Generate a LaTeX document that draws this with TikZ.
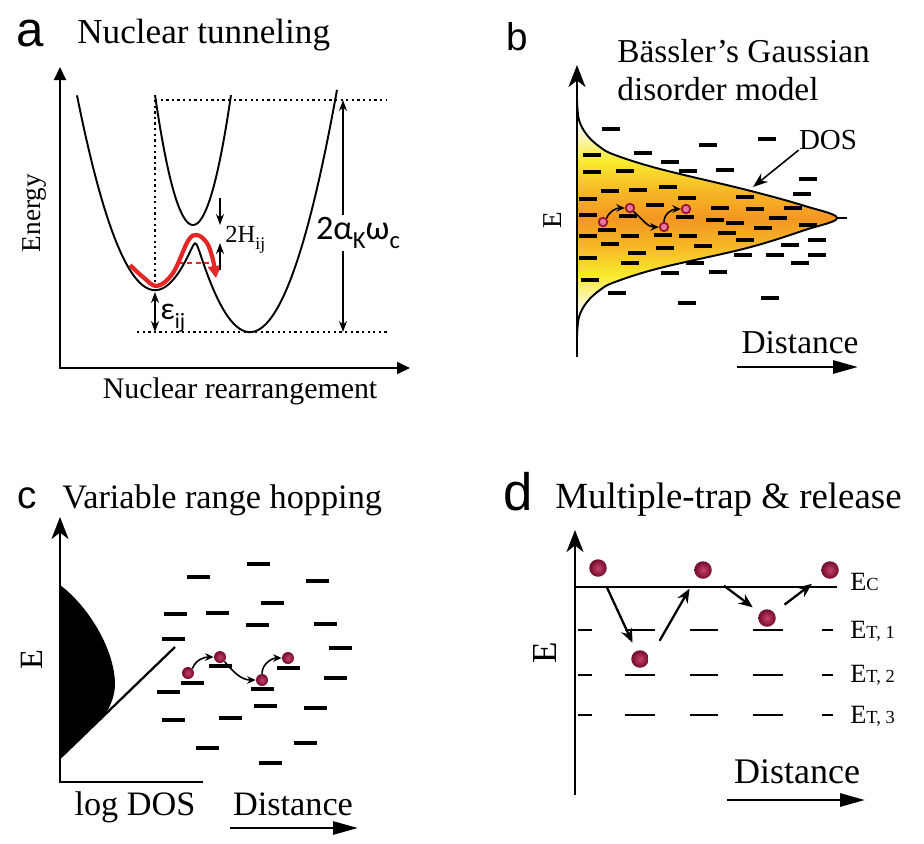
\documentclass[tikz,border=0pt]{standalone}
\usepackage{fontspec}
\setmainfont{Liberation Serif}
\newfontfamily\tagfont{Liberation Sans}
\newfontfamily\calfont{Carlito}
\usetikzlibrary{arrows.meta}
\definecolor{gdpale}{RGB}{253,251,235}
\definecolor{gdyellow}{RGB}{249,234,45}
\definecolor{gdamber}{RGB}{246,185,38}
\definecolor{gdorange}{RGB}{244,150,34}
\definecolor{tunred}{RGB}{228,38,38}
\definecolor{hopin}{RGB}{200,66,104}
\definecolor{hopout}{RGB}{112,12,44}
\definecolor{hopline}{RGB}{150,20,55}
\definecolor{hopfill}{RGB}{232,120,160}
\pgfdeclareverticalshading{gdmfill}{100bp}{color(0bp)=(gdpale); color(25bp)=(gdpale); color(31bp)=(gdpale); color(38bp)=(gdyellow); color(44bp)=(gdamber); color(50bp)=(gdorange); color(56bp)=(gdamber); color(62bp)=(gdyellow); color(69bp)=(gdpale); color(75bp)=(gdpale); color(100bp)=(gdpale)}
\newcommand\fsz[1]{\fontsize{#1}{#1}\selectfont}
\newcommand\lowidx[2]{\raisebox{-0.28em}{\fsz{#1}#2}}
\newcommand\lvlidx[1]{{\fsz{10.5}#1}}

\begin{document}
\begin{tikzpicture}[x=0.02cm,y=-0.02cm,
  declare function={
    wellL(\x)=110+3.2*((\x-155)/10)*((\x-155)/10);
    wellR(\x)=68+3.2*((\x-250)/10)*((\x-250)/10);
    halfgap(\x)=(wellL(\x)-wellR(\x))/20;
    pesLow(\x)=400-(wellL(\x)+wellR(\x))/2+10*sqrt(halfgap(\x)*halfgap(\x)+0.36);
    pesUp(\x)=225-9*((\x-193)/10)*((\x-193)/10);},
  paneltitle/.style={anchor=base west,inner sep=0pt},
  panellabel/.style={anchor=base west,inner sep=0pt},
  axlabel/.style={inner sep=0pt},
  pes/.style={line width=1.1pt},
  guide/.style={line width=1.1pt,dash pattern=on 1.3pt off 1.9pt},
  splitarr/.style={line width=0.8pt,-{Stealth[length=2.2mm,width=1.6mm]}},
  gaparr/.style={line width=0.8pt,{Stealth[length=2.2mm,width=1.6mm]}-{Stealth[length=2.2mm,width=1.6mm]}},
  tunnel/.style={tunred,line width=2.4pt,-{Triangle[length=2.4mm,width=2.6mm]}},
  thinaxis/.style={line width=1.1pt},
  eaxis/.style={line width=1.6pt,-{Stealth[length=4.4mm,width=3.4mm,inset=1.3mm]}},
  distarrow/.style={line width=1.6pt,-{Triangle[length=5mm,width=2.6mm]}},
  site/.style={line width=2.2pt},
  trapline/.style={line width=1.3pt},
  hop/.style={line width=0.9pt,-{Stealth[length=1.7mm,width=1.5mm]}},
  jump/.style={line width=1.3pt,-{Stealth[length=2.8mm,width=2.3mm]}},
  carrier/.style={circle,inner sep=0pt,minimum size=#1,inner color=hopin,outer color=hopout},
  smallcarrier/.style={circle,inner sep=0pt,minimum size=1.7mm,draw=hopline,line width=1pt,fill=hopfill}
]
\useasboundingbox (0,0) rectangle (924,843);
\fill[white] (0,0) rectangle (924,843);

% a: nuclear tunneling
\node[panellabel,font=\tagfont\fsz{28}] (tagA) at (16,46) {a};
\node[paneltitle,font=\fsz{20}] (titleA) at (77,43) {Nuclear tunneling};
\draw[thinaxis,{Triangle[length=2.6mm,width=2.4mm]}-{Triangle[length=2.6mm,width=2.4mm]}] (410,368) -- (60,368) -- (60,67);
\node[axlabel,rotate=90,font=\fsz{15.5}] (energyA) at (35,213) {Energy};
\node[axlabel,anchor=base,font=\fsz{17}] (rearrA) at (240,398) {Nuclear rearrangement};
\draw[guide] (155,100) -- (387,100);
\draw[guide] (137,332) -- (387,332);
\draw[guide] (155,100) -- (155,290);
\draw[pes] plot[domain=77:337,samples=160] (\x,{pesLow(\x)});
\draw[pes] plot[domain=155:231,samples=60] (\x,{pesUp(\x)});
\draw[tunnel] plot[smooth,tension=0.6] coordinates {(130,265) (143,277) (157,286) (173,273) (188,241) (197,235) (207,243) (213,260) (216,278)};
\draw[tunred,line width=1.5pt,dash pattern=on 3pt off 2pt] (178,263) -- (209,263);
\coordinate (upMin) at (220,225);
\coordinate (hump) at (220,243);
\draw[splitarr] (220,198) -- (upMin);
\draw[splitarr] (220,270) -- (hump);
\node[axlabel,anchor=west,font=\fsz{14}] (hA) at (225,240) {2H\lowidx{10}{ij}};
\coordinate (wellMin) at (155,292);
\coordinate (wellBase) at (155,332);
\draw[gaparr] (wellMin) -- (wellBase);
\node[axlabel,anchor=west,font=\calfont\fsz{18}] (epsA) at (160,318) {ε\lowidx{12.5}{ij}};
\coordinate (reorgTop) at (343,100);
\coordinate (reorgBot) at (343,332);
\draw[gaparr] (reorgTop) -- (reorgBot);
\node[fill=white,inner sep=1pt,font=\calfont\fsz{19.5}] (lamA) at (358,233) {2α\lowidx{14}{K}ω\lowidx{14}{c}};

% b: Gaussian disorder model
\node[panellabel,font=\tagfont\fsz{22}] (tagB) at (506,50) {b};
\node[paneltitle,font=\fsz{19}] (titleB1) at (617,62) {Bässler’s Gaussian};
\node[paneltitle,font=\fsz{19}] (titleB2) at (617,100) {disorder model};
\shade[shading=gdmfill,draw=black,line width=1.1pt] plot[smooth,tension=0.6] coordinates {(577,100) (579,120) (587,135) (600,147) (615,155) (660,169) (747,190) (805,206) (837,218) (805,230) (747,248) (660,268) (615,282) (600,290) (587,302) (579,317) (577,337)} -- cycle;
\draw[line width=1pt] (837,218) -- (847,218);
\foreach \x/\y in {611/129,643/153,592/155,670/162,688/171,708/145,592/172,625/171,610/191,638/190,668/187,687/198,588/199,655/205,588/215,607/230,628/216,663/235,685/217,588/236,630/236,688/236,610/244,665/248,703/246,588/258,637/253,630/263,695/263,670/273,590/280,617/293,687/303,767/139,725/170,808/179,802/194,745/197,720/208,755/209,793/208,778/218,735/223,715/220,763/228,808/225,727/233,745/240,790/245,817/240,743/255,775/255,817/255,800/263,718/272,770/298}
  \draw[site] ({\x-9},\y) -- ({\x+9},\y);
\draw[eaxis] (577,357) -- (577,65);
\node[axlabel,rotate=90,font=\fsz{15.5}] (eB) at (553,220) {E};
\node[axlabel,font=\fsz{16.5}] (dosB) at (828,140) {DOS};
\coordinate (dosTip) at (753,187);
\draw[line width=0.9pt,-{Stealth[length=3mm,width=2.2mm]}] (dosB.south west) -- (dosTip);
\node[smallcarrier] (bq1) at (603,222) {};
\node[smallcarrier] (bq2) at (630,208) {};
\node[smallcarrier] (bq3) at (664,227) {};
\node[smallcarrier] (bq4) at (686,209) {};
\draw[hop] (bq1.north east) to[out=70,in=180] (bq2.west);
\draw[hop] (bq2.south east) to[out=-40,in=180] (bq3.west);
\draw[hop] (bq3.north) to[out=90,in=180] (bq4.west);
\node[axlabel,anchor=base,font=\fsz{19}] (distB) at (800,353) {Distance};
\draw[distarrow] (737,367) -- (858,367);

% c: variable range hopping
\node[panellabel,font=\tagfont\fsz{22}] (tagC) at (17,508) {c};
\node[paneltitle,font=\fsz{19.5}] (titleC) at (62,508) {Variable range hopping};
\fill[black] (60,585) .. controls (88,606) and (114,648) .. (115,683) .. controls (115,697) and (110,707) .. (104,716) -- (60,758) -- cycle;
\draw[line width=1.3pt] (60,758) -- (175,647);
\draw[eaxis] (203,782) -- (60,782) -- (60,517);
\node[axlabel,rotate=90,font=\fsz{18.5}] (eC) at (32,660) {E};
\node[axlabel,anchor=base,font=\fsz{19.5}] (dosC) at (135,815) {log DOS};
\foreach \x/\y in {258/564,198/577,317/581,272/603,175/614,217/613,257/625,325/624,173/639,340/648,220/666,288/668,192/683,335/678,168/692,262/689,265/706,315/708,173/720,230/718,207/748,305/743,270/763}
  \draw[site] ({\x-11.5},\y) -- ({\x+11.5},\y);
\node[carrier=2.4mm] (cq1) at (188,673) {};
\node[carrier=2.4mm] (cq2) at (220,657) {};
\node[carrier=2.4mm] (cq3) at (262,680) {};
\node[carrier=2.4mm] (cq4) at (288,658) {};
\draw[hop] (cq1.north east) to[out=70,in=180] (cq2.west);
\draw[hop] (cq2.south east) to[out=-50,in=180] (cq3.west);
\draw[hop] (cq3.north) to[out=90,in=180] (cq4.west);
\node[axlabel,anchor=base,font=\fsz{19.5}] (distC) at (293,815) {Distance};
\draw[distarrow] (230,828) -- (358,828);

% d: multiple trap and release
\node[panellabel,font=\tagfont\fsz{30}] (tagD) at (503,510) {d};
\node[paneltitle,font=\fsz{21}] (titleD) at (555,508) {Multiple-trap \& release};
\draw[trapline] (575,587) -- (837,587);
\foreach \y in {630,675,715}
  \foreach \a/\b in {578/592,625/655,690/718,753/783,822/833}
    \draw[trapline] (\a,\y) -- (\b,\y);
\draw[eaxis] (575,795) -- (575,530);
\node[axlabel,rotate=90,font=\fsz{20}] (eD) at (545,653) {E};
\node[panellabel,font=\fsz{15}] (ecD) at (850,590) {E\lvlidx{C}};
\node[panellabel,font=\fsz{15}] (et1D) at (850,638) {E\lvlidx{T, 1}};
\node[panellabel,font=\fsz{15}] (et2D) at (850,682) {E\lvlidx{T, 2}};
\node[panellabel,font=\fsz{15}] (et3D) at (850,723) {E\lvlidx{T, 3}};
\node[carrier=3.5mm] (dq1) at (598,568) {};
\node[carrier=3.5mm] (dq2) at (703,570) {};
\node[carrier=3.5mm] (dq3) at (830,570) {};
\node[carrier=3.5mm] (dq4) at (640,659) {};
\node[carrier=3.5mm] (dq5) at (767,618) {};
\draw[jump,shorten <=6.9pt,shorten >=5pt] (dq1) -- (dq4);
\draw[jump,shorten <=12pt,shorten >=8pt] (dq4.east) -- (dq2.south west);
\draw[jump,shorten <=9.7pt,shorten >=5pt] (dq2) -- (dq5);
\draw[jump,shorten <=7.4pt,shorten >=7.8pt] (dq5) -- (dq3);
\node[axlabel,anchor=base,font=\fsz{20.5}] (distD) at (797,783) {Distance};
\draw[distarrow] (727,800) -- (865,800);
\end{tikzpicture}
\end{document}
